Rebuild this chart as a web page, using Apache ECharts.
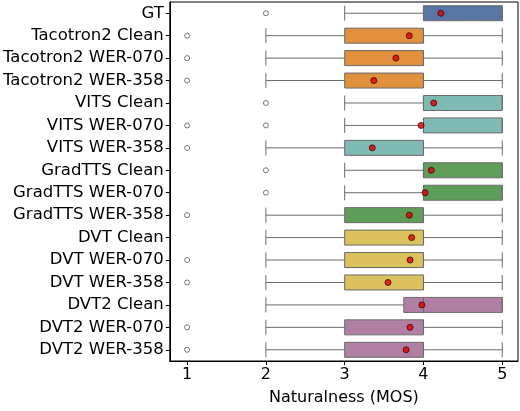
<!DOCTYPE html><html><head><meta charset="utf-8">
<script src="https://cdn.jsdelivr.net/npm/echarts@6/dist/echarts.min.js"></script>
<style>html,body{margin:0;padding:0;background:#fff}#c{width:520px;height:411px}</style></head><body><div id="c"></div>
<script>
const categories=["GT","Tacotron2 Clean","Tacotron2 WER-070","Tacotron2 WER-358","VITS Clean","VITS WER-070","VITS WER-358","GradTTS Clean","GradTTS WER-070","GradTTS WER-358","DVT Clean","DVT WER-070","DVT WER-358","DVT2 Clean","DVT2 WER-070","DVT2 WER-358"];
// [low whisker, Q1, median, Q3, high whisker]
const boxStats=[[3,4,4,5,5],[2,3,4,4,5],[2,3,4,4,5],[2,3,4,4,5],[3,4,4,5,5],[3,4,4,5,5],[2,3,4,4,5],[3,4,4,5,5],[3,4,4,5,5],[2,3,4,4,5],[2,3,4,4,5],[2,3,4,4,5],[2,3,4,4,5],[2,3.75,4,5,5],[2,3,4,4,5],[2,3,4,4,5]];
const outliers=[[2],[1],[1],[1],[2],[1,2],[1],[2],[2],[1],[],[1],[1],[],[1],[1]];
const means=[4.22,3.82,3.65,3.37,4.13,3.97,3.35,4.1,4.02,3.82,3.85,3.83,3.55,3.98,3.83,3.78];
const colors=["#5875a4","#e1913e","#e1913e","#e1913e","#7fbab4","#7fbab4","#7fbab4","#5f9e5a","#5f9e5a","#5f9e5a","#dbc25f","#dbc25f","#dbc25f","#b07fa5","#b07fa5","#b07fa5"];
const tickLabels=[1,2,3,4,5];

const outData=[];outliers.forEach((o,i)=>o.forEach(v=>outData.push([v,categories[i]])));
const chart=echarts.init(document.getElementById('c'));
chart.setOption({
 animation:false,
 grid:{left:148,right:2,top:2,bottom:38,show:true,borderColor:'#000',borderWidth:1},
 xAxis:{type:'value',min:0.78,max:5.2,name:'Naturalness (MOS)',nameLocation:'middle',nameGap:29,
  nameTextStyle:{fontSize:16,color:'#000',fontFamily:'DejaVu Sans'},
  splitLine:{show:false},axisLine:{show:true,lineStyle:{color:'#000'}},
  axisTick:{show:true,customValues:tickLabels,length:4,lineStyle:{color:'#000'}},
  axisLabel:{customValues:tickLabels,fontSize:16,color:'#000',fontFamily:'DejaVu Sans',margin:6}},
 yAxis:{type:'category',data:categories,inverse:true,
  axisLine:{show:true,lineStyle:{color:'#000'}},axisTick:{show:true,alignWithLabel:true,length:4,lineStyle:{color:'#000'}},
  axisLabel:{fontSize:16.5,color:'#000',fontFamily:'DejaVu Sans',margin:6},splitLine:{show:false}},
 series:[
  {type:'boxplot',boxWidth:[15,15],
   data:boxStats.map((b,i)=>({value:b,itemStyle:{color:colors[i],borderColor:'#6b6b6b',borderWidth:1}}))},
  {type:'scatter',data:outData,symbol:'circle',symbolSize:5,itemStyle:{color:'#fff',borderColor:'#555',borderWidth:1}},
  {type:'scatter',data:means.map((m,i)=>[m,categories[i]]),symbol:'circle',symbolSize:6,itemStyle:{color:'#e00000',borderColor:'#400',borderWidth:1},z:5}
 ]
});
</script></body></html>
